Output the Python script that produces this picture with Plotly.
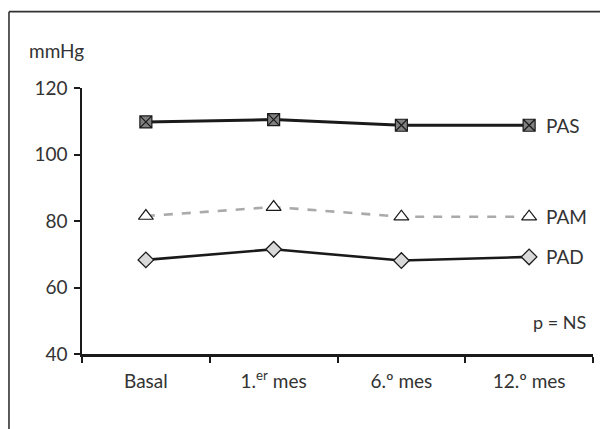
import plotly.graph_objects as go

categories = ["Basal", "1.<sup>er</sup> mes", "6.º mes", "12.º mes"]
pas = [109.8, 110.5, 108.8, 108.8]
pam = [81.5, 84.2, 81.3, 81.3]
pad = [68.3, 71.5, 68.1, 69.2]
yticks = [40, 60, 80, 100, 120]

FONT = "Lato"
TXT = "#333333"
FS = 19

fig = go.Figure()
fig.add_trace(go.Scatter(
    x=categories, y=pad, mode="lines+markers", name="PAD",
    line=dict(color="#1a1a1a", width=2.6),
    marker=dict(symbol="diamond", size=12, color="#d9d9d9",
                line=dict(color="#1a1a1a", width=1.3))))
fig.add_trace(go.Scatter(
    x=categories, y=pam, mode="lines+markers", name="PAM",
    line=dict(color="#aaaaaa", width=2.6, dash="dash"),
    marker=dict(symbol="triangle-up", size=13, color="white",
                line=dict(color="#1a1a1a", width=1.2))))
fig.add_trace(go.Scatter(
    x=categories, y=pas, mode="lines+markers", name="PAS",
    line=dict(color="#1a1a1a", width=3),
    marker=dict(symbol="square-x", size=12, color="#808080",
                line=dict(color="#1a1a1a", width=1.2))))

annotations = []
for name, vals in (("PAS", pas), ("PAM", pam), ("PAD", pad)):
    annotations.append(dict(x=3, y=vals[-1], xref="x", yref="y", text=name,
                            xanchor="left", yanchor="middle", xshift=15,
                            showarrow=False, font=dict(family=FONT, size=FS, color=TXT)))
annotations.append(dict(x=-0.05, y=1.141, xref="paper", yref="paper", text="mmHg",
                        xanchor="center", yanchor="middle", showarrow=False,
                        font=dict(family=FONT, size=FS, color=TXT)))
annotations.append(dict(x=0.99, y=49.6, xref="paper", yref="y", text="p = NS",
                        xanchor="right", yanchor="middle", showarrow=False,
                        font=dict(family=FONT, size=FS - 1, color=TXT)))

shapes = [
    dict(type="line", xref="paper", yref="paper", x0=-0.1429, x1=1.1, y0=1.287, y1=1.287,
         line=dict(color="#333333", width=1.6)),
    dict(type="line", xref="paper", yref="paper", x0=-0.1429, x1=-0.1429, y0=1.287, y1=-0.4,
         line=dict(color="#333333", width=1.6)),
]

fig.update_layout(
    width=600, height=421,
    margin=dict(l=74, r=15, t=79.5, b=75),
    paper_bgcolor="white", plot_bgcolor="white",
    showlegend=False,
    font=dict(family=FONT, size=FS, color=TXT),
    annotations=annotations, shapes=shapes,
    xaxis=dict(type="category", categoryarray=categories, range=[-0.5, 3.5],
               tickson="boundaries", ticks="outside", ticklen=6, tickwidth=1.5,
               tickcolor="#1a1a1a", showline=True, linecolor="#1a1a1a", linewidth=2.5,
               showgrid=False, zeroline=False, ticklabelstandoff=8,
               tickfont=dict(family=FONT, size=FS, color=TXT)),
    yaxis=dict(range=[40, 120], tickvals=yticks, ticks="outside", ticklen=6, tickwidth=2,
               tickcolor="#1a1a1a", showline=True, linecolor="#1a1a1a", linewidth=1.5,
               showgrid=False, zeroline=False, ticklabelstandoff=3,
               tickfont=dict(family=FONT, size=FS, color=TXT)),
)

fig.write_html("out.html")
